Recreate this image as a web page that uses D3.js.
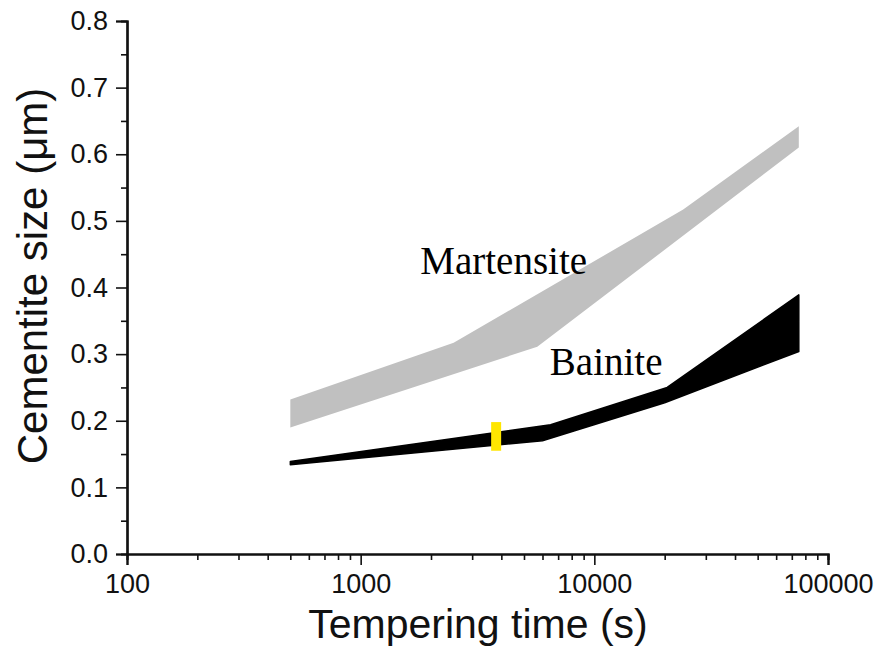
<!DOCTYPE html>
<html>
<head>
<meta charset="utf-8">
<script src="https://cdn.jsdelivr.net/npm/d3@7"></script>
<style>
  body { margin: 0; background: #fff; }
  svg { display: block; }
</style>
</head>
<body>
<svg id="chart" width="878" height="649"></svg>
<script>
// tempering time (s) and cementite size (um)
var martUpper = [[500, 0.232], [2500, 0.317], [24000, 0.517], [75000, 0.642]];
var martLower = [[500, 0.190], [5700, 0.311], [75000, 0.610]];
var bainUpper = [[500, 0.139], [6500, 0.194], [20500, 0.250], [75000, 0.389]];
var bainLower = [[500, 0.134], [6000, 0.170], [20000, 0.227], [75000, 0.304]];
var marker = {time: 3800, low: 0.155, high: 0.198};

var yTicks = [0.0, 0.1, 0.2, 0.3, 0.4, 0.5, 0.6, 0.7, 0.8];
var xTicks = [100, 1000, 10000, 100000];
var labels = [
  {text: "Martensite", time: 1800, size: 0.42},
  {text: "Bainite", time: 6450, size: 0.268}
];

var svg = d3.select("#chart");

var x = d3.scaleLog().domain([100, 100000]).range([127, 828]);
var y = d3.scaleLinear().domain([0, 0.8]).range([554, 21]);

// band = upper edge forward, lower edge back
function band(upper, lower) {
	var pts = upper.concat(lower.slice().reverse());
	return d3.line()
		.x(function(d){ return x(d[0]); })
		.y(function(d){ return y(d[1]); })(pts) + "Z";
}

svg.append("path")
	.attr("d", band(martUpper, martLower))
	.attr("fill", "#c0c0c0");

svg.append("path")
	.attr("d", band(bainUpper, bainLower))
	.attr("fill", "#000")
	.attr("stroke", "#000")
	.attr("stroke-width", 1.5)
	.attr("stroke-linejoin", "round");

svg.append("rect")
	.attr("x", x(marker.time) - 5)
	.attr("y", y(marker.high))
	.attr("width", 10)
	.attr("height", y(marker.low) - y(marker.high))
	.attr("fill", "#ffe600");

svg.selectAll("text.lbl")
	.data(labels)
	.enter()
	.append("text")
	.attr("class", "lbl")
	.attr("x", function(d){ return x(d.time); })
	.attr("y", function(d){ return y(d.size); })
	.attr("font-family", "'Liberation Serif', 'Times New Roman', serif")
	.attr("font-size", 39)
	.text(function(d){ return d.text; });

// minor ticks on the log axis: 2..9 in every decade
var xMinor = [];
xTicks.slice(0, -1).forEach(function(d){
	for (var k = 2; k < 10; k++) xMinor.push(d * k);
});
var yMinor = d3.range(0.05, 0.8, 0.1);

var xAxis = svg.append("g").attr("transform", "translate(0,554)");
xAxis.call(d3.axisBottom(x).tickValues(xMinor).tickSize(6).tickFormat(""));
xAxis.call(function(g){
	g.append("g").call(d3.axisBottom(x).tickValues(xTicks).tickSize(11).tickPadding(9).tickFormat(d3.format("d")));
});

var yAxis = svg.append("g").attr("transform", "translate(127,0)");
yAxis.call(d3.axisLeft(y).tickValues(yMinor).tickSize(6).tickFormat(""));
yAxis.call(function(g){
	g.append("g").call(d3.axisLeft(y).tickValues(yTicks).tickSize(11).tickPadding(8).tickFormat(d3.format(".1f")));
});

svg.selectAll(".domain").attr("stroke", "#111").attr("stroke-width", 2.2);
svg.selectAll(".tick line").attr("stroke", "#111").attr("stroke-width", 1.6);
svg.selectAll(".tick text")
	.attr("fill", "#111")
	.attr("font-family", "'Liberation Sans', Arial, sans-serif")
	.attr("font-size", 27);

svg.append("text")
	.attr("x", 478)
	.attr("y", 638)
	.attr("text-anchor", "middle")
	.attr("font-family", "'Liberation Sans', Arial, sans-serif")
	.attr("font-size", 41)
	.attr("fill", "#111")
	.text("Tempering time (s)");

svg.append("text")
	.attr("transform", "translate(47,276) rotate(-90)")
	.attr("text-anchor", "middle")
	.attr("font-family", "'Liberation Sans', Arial, sans-serif")
	.attr("font-size", 42)
	.attr("fill", "#111")
	.text("Cementite size (\u03bcm)");
</script>
</body>
</html>
